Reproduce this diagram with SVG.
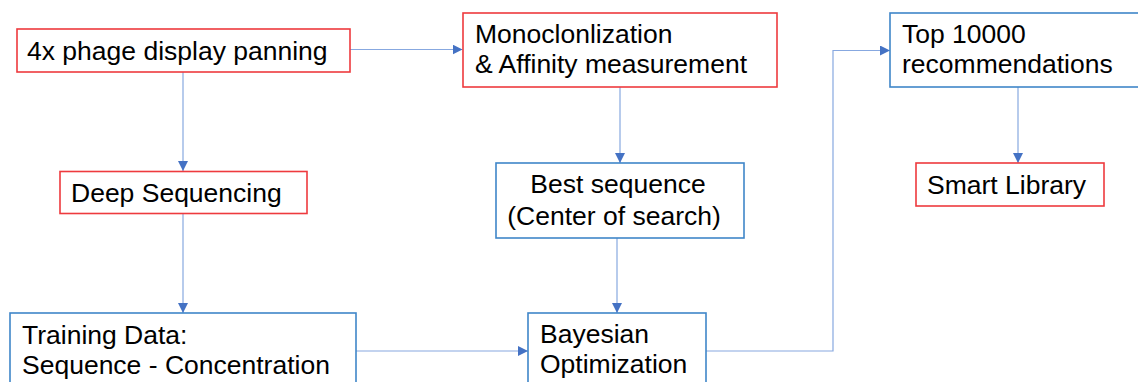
<svg xmlns="http://www.w3.org/2000/svg" width="1138" height="382" viewBox="0 0 1138 382">
<style>
.red{fill:#fff;stroke:#ee3a3e;stroke-width:1.6}
.blue{fill:#fff;stroke:#3f86c9;stroke-width:1.6}
text{font-family:"Liberation Sans",Arial,sans-serif;font-size:26.5px;fill:#000}
.conn{fill:none;stroke:#87a8e0;stroke-width:1.2}
</style>
<defs>
<marker id="arr" viewBox="0 0 10 10" refX="10" refY="5" markerWidth="10" markerHeight="10" markerUnits="userSpaceOnUse" orient="auto">
<path d="M0,0 L10,5 L0,10 z" fill="#4472c4"/>
</marker>
</defs>
<rect width="1138" height="382" fill="#fff"/>
<g id="connectors">
<path class="conn" d="M350,49.5 H462.5" marker-end="url(#arr)"/>
<path class="conn" d="M183,72 V171" marker-end="url(#arr)"/>
<path class="conn" d="M183,214 V313" marker-end="url(#arr)"/>
<path class="conn" d="M620,87 V163" marker-end="url(#arr)"/>
<path class="conn" d="M617,238 V313" marker-end="url(#arr)"/>
<path class="conn" d="M356,351 H528" marker-end="url(#arr)"/>
<path class="conn" d="M706,351 H833 V50.5 H890" marker-end="url(#arr)"/>
<path class="conn" d="M1018,87 V163" marker-end="url(#arr)"/>
</g>
<g id="phage">
<rect class="red" x="17" y="29" width="333" height="43"/>
<text x="27" y="59.5">4x phage display panning</text>
</g>
<g id="mono">
<rect class="red" x="463" y="13" width="314" height="74"/>
<text x="475" y="43.3">Monoclonlization</text>
<text x="475" y="73.3">&amp; Affinity measurement</text>
</g>
<g id="top">
<rect class="blue" x="890" y="13" width="260" height="74"/>
<text x="902" y="43">Top 10000</text>
<text x="902" y="73.3">recommendations</text>
</g>
<g id="deepseq">
<rect class="red" x="60" y="171.5" width="247" height="42"/>
<text x="71" y="202.3">Deep Sequencing</text>
</g>
<g id="best">
<rect class="blue" x="496" y="163" width="248" height="75"/>
<text x="618" y="193.3" text-anchor="middle">Best sequence</text>
<text x="614" y="224.5" text-anchor="middle">(Center of search)</text>
</g>
<g id="smart">
<rect class="red" x="916" y="163" width="188" height="43"/>
<text x="927" y="193.5">Smart Library</text>
</g>
<g id="training">
<rect class="blue" x="10" y="313" width="346" height="90"/>
<text x="22" y="344.3">Training Data:</text>
<text x="22" y="374.3">Sequence - Concentration</text>
</g>
<g id="bayes">
<rect class="blue" x="528" y="313" width="178" height="90"/>
<text x="540" y="343.3">Bayesian</text>
<text x="540" y="373.3">Optimization</text>
</g>
</svg>
